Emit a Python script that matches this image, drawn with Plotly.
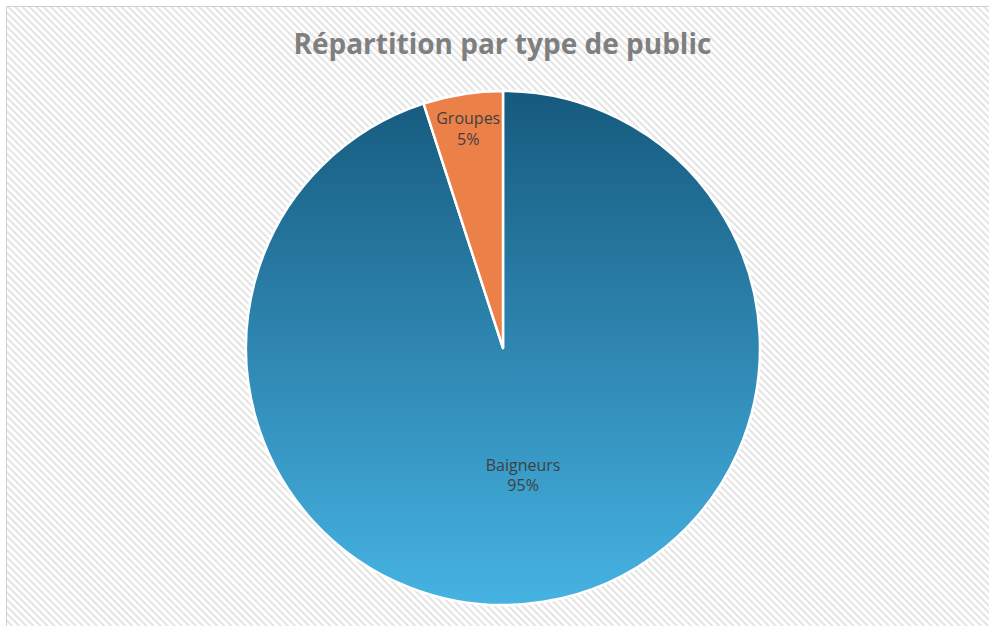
import base64
import plotly.graph_objects as go

# données
categories = ["Baigneurs", "Groupes"]
valeurs = [95, 5]

W, H = 989, 626
# position du camembert (px)
CX, CY, R = 503, 348, 257

COR_TEXTO = "#404040"
COR_TITRE = "#7f7f7f"
COR_ORANGE = "#ec8049"


def _svg_uri(svg: str) -> str:
    return "data:image/svg+xml;base64," + base64.b64encode(svg.encode()).decode()


fond_svg = f"""<svg xmlns='http://www.w3.org/2000/svg' width='{W}' height='{H}' viewBox='0 0 {W} {H}' preserveAspectRatio='none'>
<defs><pattern id='p' width='5' height='5' patternUnits='userSpaceOnUse' patternTransform='rotate(-45)'>
<rect width='5' height='5' fill='#ffffff'/><rect width='2' height='5' fill='#e4e4e4'/></pattern></defs>
<rect width='{W}' height='{H}' fill='#ffffff'/>
<rect x='6.5' y='6.5' width='{W + 10}' height='{H + 10}' fill='url(#p)' stroke='#d0d0d0'/>
</svg>"""

degrade_svg = """<svg xmlns='http://www.w3.org/2000/svg' width='100' height='100' viewBox='0 0 100 100'>
<defs><linearGradient id='g' x1='0' y1='0' x2='0' y2='1'>
<stop offset='0' stop-color='#165a7e'/><stop offset='1' stop-color='#46b3e3'/></linearGradient></defs>
<circle cx='50' cy='50' r='50' fill='url(#g)'/>
</svg>"""

dom_x = [(CX - R) / W, (CX + R) / W]
dom_y = [1 - (CY + R) / H, 1 - (CY - R) / H]

fig = go.Figure(go.Pie(
    labels=categories, values=valeurs,
    sort=False, direction="clockwise", rotation=0,
    domain=dict(x=dom_x, y=dom_y),
    marker=dict(colors=["rgba(0,0,0,0)", COR_ORANGE],
                line=dict(color="#ffffff", width=2.5)),
    texttemplate="%{label}<br>%{percent:.0%}",
    textposition="inside", insidetextorientation="horizontal",
    insidetextfont=dict(color=COR_TEXTO, size=16, family="Open Sans"),
    showlegend=False, hoverinfo="label+percent",
))

fig.update_layout(
    width=W, height=H,
    margin=dict(l=0, r=0, t=0, b=0),
    paper_bgcolor="#ffffff",
    uniformtext=dict(minsize=16, mode="show"),
    title=dict(text="<b>Répartition par type de public</b>",
               x=0.508, xanchor="center", y=1 - 44 / H, yanchor="middle",
               font=dict(family="Open Sans", size=28, color=COR_TITRE)),
    images=[
        dict(source=_svg_uri(fond_svg), xref="paper", yref="paper",
             x=0, y=1, sizex=1, sizey=1, sizing="stretch",
             xanchor="left", yanchor="top", layer="below"),
        dict(source=_svg_uri(degrade_svg), xref="paper", yref="paper",
             x=dom_x[0], y=dom_y[1], sizex=dom_x[1] - dom_x[0],
             sizey=dom_y[1] - dom_y[0], sizing="stretch",
             xanchor="left", yanchor="top", layer="below"),
    ],
)

# la page ne doit pas décaler le graphique
fig.write_html("out.html", config={"displayModeBar": False},
               post_script="document.body.style.margin='0';")
